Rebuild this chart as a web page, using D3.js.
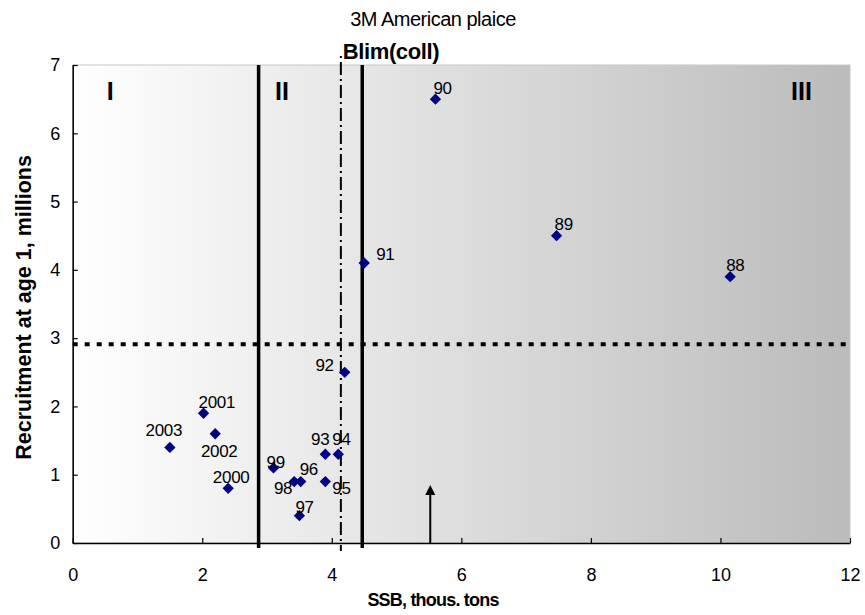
<!DOCTYPE html>
<html>
<head>
<meta charset="utf-8">
<script src="https://cdn.jsdelivr.net/npm/d3@7"></script>
<style>
  body { margin: 0; background: #fff; }
  text { font-family: "Liberation Sans", Arial, sans-serif; fill: #000; }
</style>
</head>
<body>
<div id="chart"></div>
<script>
// data
var years = ["88", "89", "90", "91", "92", "93", "94", "95", "96", "97", "98", "99", "2000", "2001", "2002", "2003"];
var ssb   = [10.15, 7.47, 5.6, 4.5, 4.2, 3.9, 4.1, 3.9, 3.52, 3.5, 3.42, 3.1, 2.4, 2.02, 2.2, 1.5];
var recr  = [3.9, 4.5, 6.5, 4.1, 2.5, 1.3, 1.3, 0.9, 0.9, 0.4, 0.9, 1.1, 0.8, 1.9, 1.6, 1.4];
// label offsets (dx, dy, anchor) so labels sit like the original
var labelPos = [
  [-4, -6, "start"], [-2, -6, "start"], [-2, -5, "start"], [12, -3, "start"],
  [-11, -1, "end"], [4, -9, "end"], [-6, -9, "start"], [7, 12, "start"],
  [-1, -7, "start"], [-4, -3, "start"], [-2, 12, "end"], [-7, 0, "start"],
  [3, -5, "middle"], [-5, -5, "start"], [4, 23, "middle"], [-6, -11, "middle"]
];
var xTicks = [0, 2, 4, 6, 8, 10, 12];
var yTicks = [0, 1, 2, 3, 4, 5, 6, 7];
var zoneLines = [2.87, 4.47];          // thick vertical borders
var zoneNames = ["I", "II", "III"];
var zoneNameX = [0.58, 3.23, 11.25];
var blim = 4.14;                        // Blim(coll)
var rLevel = 2.91;                      // dotted recruitment level
var arrowX = 5.52, arrowTop = 0.85;

var W = 865, H = 615;
var margin = {left: 72.7, right: 15, top: 65, bottom: 72};
var x = d3.scaleLinear().domain([0, 12]).range([margin.left, W - margin.right]);
var y = d3.scaleLinear().domain([0, 7]).range([H - margin.bottom, margin.top]);

var svg = d3.select("#chart").append("svg")
    .attr("width", W).attr("height", H);

var grad = svg.append("defs").append("linearGradient")
    .attr("id", "bg").attr("x1", "0%").attr("x2", "100%").attr("y1", "0%").attr("y2", "0%");
grad.append("stop").attr("offset", "0%").attr("stop-color", "#ffffff");
grad.append("stop").attr("offset", "100%").attr("stop-color", "#bbbbbb");

// plot area
svg.append("rect")
    .attr("x", x(0)).attr("y", y(7))
    .attr("width", x(12) - x(0)).attr("height", y(0) - y(7))
    .attr("fill", "url(#bg)")
    .attr("stroke", "#c8c8c8").attr("stroke-width", 1);

// title
svg.append("text")
    .attr("x", 433).attr("y", 26)
    .attr("text-anchor", "middle")
    .style("font-size", "20px").style("letter-spacing", "-0.5px")
    .text("3M American plaice");

// axes
var xAxis = d3.axisBottom(x).tickValues(xTicks).tickFormat(d3.format("d"))
    .tickSizeInner(-5).tickSizeOuter(0).tickPadding(25);
var yAxis = d3.axisLeft(y).tickValues(yTicks).tickFormat(d3.format("d"))
    .tickSizeInner(-5).tickSizeOuter(0).tickPadding(12.5);

var gx = svg.append("g").attr("transform", "translate(0," + y(0) + ")").call(xAxis);
var gy = svg.append("g").attr("transform", "translate(" + x(0) + ",0)").call(yAxis);
[gx, gy].forEach(function (g) {
    g.select(".domain").attr("stroke", "#000").attr("stroke-width", 1.5);
    g.selectAll(".tick line").attr("stroke", "#000").attr("stroke-width", 1.2);
    g.selectAll(".tick text")
        .style("font-family", "'Liberation Sans', Arial, sans-serif")
        .style("font-size", "18px").attr("fill", "#000");
});

// axis titles
svg.append("text")
    .attr("x", 433).attr("y", 606)
    .attr("text-anchor", "middle")
    .style("font-size", "18px").style("font-weight", "bold").style("letter-spacing", "-0.8px")
    .text("SSB, thous. tons");
svg.append("text")
    .attr("transform", "translate(31," + (y(3.45)) + ") rotate(-90)")
    .attr("text-anchor", "middle")
    .style("font-size", "21.5px").style("font-weight", "bold")
    .text("Recruitment at age 1, millions");

// dotted recruitment line
svg.append("line")
    .attr("x1", x(0)).attr("x2", x(12))
    .attr("y1", y(rLevel)).attr("y2", y(rLevel))
    .attr("stroke", "#000").attr("stroke-width", 4)
    .attr("stroke-dasharray", "5,7");

// Blim dash-dot line
svg.append("line")
    .attr("x1", x(blim)).attr("x2", x(blim))
    .attr("y1", 56).attr("y2", y(0) + 8)
    .attr("stroke", "#000").attr("stroke-width", 2)
    .attr("stroke-dasharray", "2,4,13,4");
svg.append("text")
    .attr("x", x(blim) + 2).attr("y", 59)
    .style("font-size", "22px").style("font-weight", "bold").style("letter-spacing", "-0.4px")
    .text("Blim(coll)");

// zone borders
svg.selectAll(".zone")
    .data(zoneLines).enter().append("line")
    .attr("class", "zone")
    .attr("x1", d => x(d)).attr("x2", d => x(d))
    .attr("y1", y(7)).attr("y2", y(0) + 5)
    .attr("stroke", "#000").attr("stroke-width", 3.5);

svg.selectAll(".zoneName")
    .data(zoneNames).enter().append("text")
    .attr("class", "zoneName")
    .attr("x", (d, i) => x(zoneNameX[i]))
    .attr("y", 100)
    .attr("text-anchor", "middle")
    .style("font-size", "25px").style("font-weight", "bold")
    .text(d => d);

// arrow
svg.append("line")
    .attr("x1", x(arrowX)).attr("x2", x(arrowX))
    .attr("y1", y(0)).attr("y2", y(arrowTop) + 6)
    .attr("stroke", "#000").attr("stroke-width", 2);
svg.append("path")
    .attr("d", "M" + x(arrowX) + "," + y(arrowTop) +
               "L" + (x(arrowX) - 5) + "," + (y(arrowTop) + 10) +
               "L" + (x(arrowX) + 5) + "," + (y(arrowTop) + 10) + "Z")
    .attr("fill", "#000");

// points
var pts = years.map((d, i) => ({year: d, x: ssb[i], y: recr[i], lp: labelPos[i]}));
svg.selectAll(".pt")
    .data(pts).enter().append("path")
    .attr("class", "pt")
    .attr("d", d3.symbol().type(d3.symbolSquare).size(64))
    .attr("transform", d => "translate(" + x(d.x) + "," + y(d.y) + ") rotate(45)")
    .attr("fill", "#000080");

svg.selectAll(".lbl")
    .data(pts).enter().append("text")
    .attr("class", "lbl")
    .attr("x", d => x(d.x) + d.lp[0])
    .attr("y", d => y(d.y) + d.lp[1])
    .attr("text-anchor", d => d.lp[2])
    .style("font-size", "17px").style("letter-spacing", "-0.3px")
    .text(d => d.year);
</script>
</body>
</html>
